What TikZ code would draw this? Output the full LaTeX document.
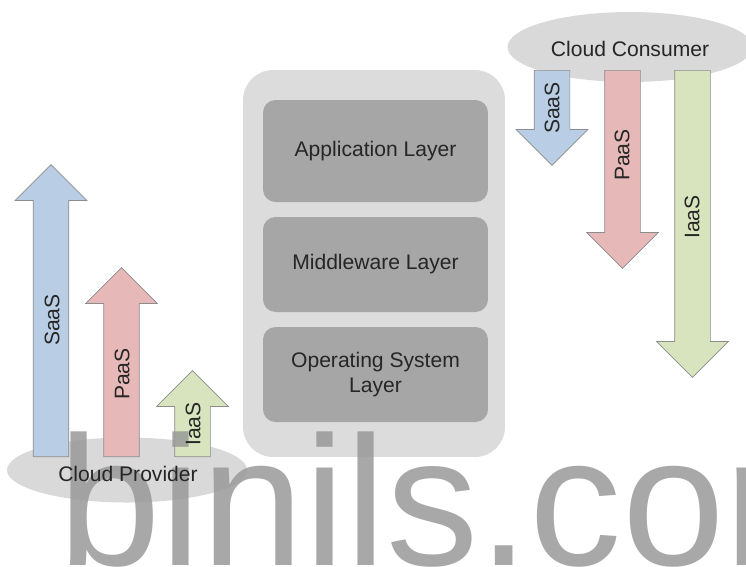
\documentclass[tikz,border=0pt]{standalone}
\usepackage{fontspec}
\setmainfont{Liberation Sans}
\usepackage{tikz}
\usetikzlibrary{shapes.geometric,shapes.arrows}
\definecolor{mysaas}{HTML}{B9CDE5}
\definecolor{mypaas}{HTML}{E6B9B8}
\definecolor{myiaas}{HTML}{D7E4BD}
\definecolor{myline}{HTML}{8C8C8C}
\definecolor{mycloud}{HTML}{D9D9D9}
\definecolor{mystack}{HTML}{DCDCDC}
\definecolor{mylayer}{HTML}{A6A6A6}
\colorlet{mytext}{black!85}
\colorlet{mymark}{black!40}
\tikzset{
  every node/.style={font=\fontsize{12}{14.5}\selectfont,text=mytext},
  serviceArrow/.style={single arrow,draw=myline,thin,anchor=tail,
      minimum height=#1,minimum width=1.42cm,single arrow head extend=0.36cm,
      inner xsep=0,inner ysep=0.35cm,text height=0pt,text depth=0pt},
  upArrow/.style={serviceArrow=#1,rotate=90},
  downArrow/.style={serviceArrow=#1,rotate=-90},
  arrowLabel/.style={rotate=90,inner sep=0},
  cloudNode/.style={ellipse,fill=mycloud,inner sep=0},
  cloudLabel/.style={inner sep=0},
  stackNode/.style={rectangle,rounded corners=0.6cm,fill=mystack},
  layerNode/.style={rectangle,rounded corners=0.25cm,fill=mylayer,minimum width=4.5cm},
  watermark/.style={anchor=base west,inner sep=0,text=mymark,opacity=0.85,
      font=\fontsize{105}{105}\selectfont},
}

\begin{document}
\begin{tikzpicture}[x=0.02cm,y=-0.02cm]
  \useasboundingbox (0,0) rectangle (746,566);
  \clip (0,0) rectangle (746,566);

  \node[cloudNode,minimum width=4.9cm,minimum height=1.4cm] (consumer) at (630,47) {};
  \node[cloudNode,minimum width=4.8cm,minimum height=1.3cm] (provider) at (127,470) {};

  \node[stackNode,minimum width=5.24cm,minimum height=7.74cm] (stack) at (374,263.5) {};
  \node[layerNode,minimum height=2.04cm] (app) at (375.5,151) {Application Layer};
  \node[layerNode,minimum height=1.9cm] (mid) at (375.5,264.5) {Middleware Layer};
  \node[layerNode,minimum height=1.9cm,align=center] (os) at (375.5,374.5) {Operating System\\Layer};

  % provider side
  \node[upArrow=5.84cm,fill=mysaas] (saasUp) at (51,457) {};
  \node[upArrow=3.78cm,fill=mypaas] (paasUp) at (121.5,457) {};
  \node[upArrow=1.72cm,fill=myiaas] (iaasUp) at (192.5,457) {};

  % consumer side
  \node[downArrow=1.9cm,fill=mysaas] (saasDown) at (552,70) {};
  \node[downArrow=3.96cm,fill=mypaas] (paasDown) at (622.5,70) {};
  \node[downArrow=6.14cm,fill=myiaas] (iaasDown) at (692.5,70) {};

  \node[watermark] (mark) at (58,565) {binils.com};

  % labels on top of the mark
  \node[cloudLabel] (consumerText) at (630,49) {Cloud Consumer};
  \node[cloudLabel] (providerText) at (128,474) {Cloud Provider};
  \node[arrowLabel] (saasUpText) at (52,320) {SaaS};
  \node[arrowLabel] (paasUpText) at (122,374) {PaaS};
  \node[arrowLabel] (iaasUpText) at (193,424) {IaaS};
  \node[arrowLabel] (saasDownText) at (552,108) {SaaS};
  \node[arrowLabel] (paasDownText) at (622,155) {PaaS};
  \node[arrowLabel] (iaasDownText) at (692,217) {IaaS};
\end{tikzpicture}
\end{document}
